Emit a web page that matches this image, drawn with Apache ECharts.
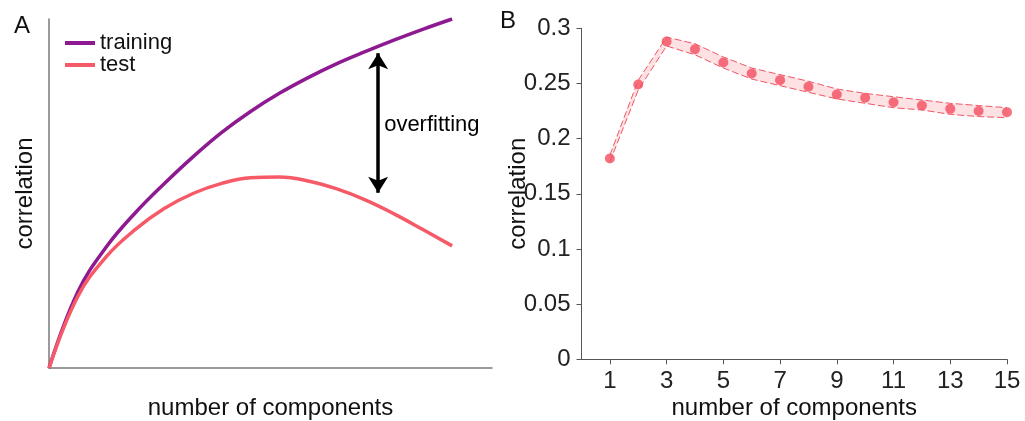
<!DOCTYPE html>
<html>
<head>
<meta charset="utf-8">
<script src="https://cdn.jsdelivr.net/npm/echarts@6/dist/echarts.min.js"></script>
<style>
  html, body { margin: 0; padding: 0; background: #fff; }
  #chart { width: 1025px; height: 421px; }
</style>
</head>
<body>
<div id="chart"></div>
<script>
// panel A: schematic curves (arbitrary units)
const schemX = [0, 0.65, 1.3, 1.95, 2.6, 3.25, 3.9, 4.55, 5.2, 5.85, 6.5, 7.15, 7.8, 8.45, 9.1];
const trainingY = [0, 2.18, 3.48, 4.45, 5.28, 6.05, 6.75, 7.35, 7.87, 8.32, 8.72, 9.07, 9.4, 9.71, 10.0];
const testY = [0, 2.05, 3.2, 3.97, 4.57, 5.0, 5.29, 5.45, 5.47, 5.36, 5.13, 4.81, 4.41, 3.96, 3.5];
const arrowX = 7.43;
const arrowFrom = 5.02;
const arrowTo = 9.02;
const labelY = 6.96;

// panel B: correlation vs number of components
const components = [1, 2, 3, 4, 5, 6, 7, 8, 9, 10, 11, 12, 13, 14, 15];
const corrMean = [0.182, 0.249, 0.288, 0.281, 0.269, 0.259, 0.253, 0.247, 0.240, 0.237, 0.233, 0.230, 0.227, 0.225, 0.224];
const corrLow  = [0.179, 0.244, 0.284, 0.276, 0.264, 0.254, 0.248, 0.242, 0.236, 0.232, 0.228, 0.226, 0.222, 0.220, 0.219];
const corrHigh = [0.185, 0.253, 0.292, 0.286, 0.274, 0.264, 0.258, 0.252, 0.245, 0.241, 0.238, 0.235, 0.232, 0.230, 0.228];
const xTicksB = [1, 3, 5, 7, 9, 11, 13, 15];

const FONT = "'Liberation Sans', Arial, Helvetica, sans-serif";
const purple = '#8e1a91';
const coral = '#f65a66';
const dotRed = '#f24e5e';

const chart = echarts.init(document.getElementById('chart'));

const pair = (xs, ys) => xs.map((x, i) => [x, ys[i]]);

const option = {
  animation: false,
  textStyle: { fontFamily: FONT },
  title: [
    { text: 'A', left: 14, top: 14, padding: 0, textStyle: { fontSize: 24, fontWeight: 'normal', color: '#111', fontFamily: FONT } },
    { text: 'B', left: 500, top: 9, padding: 0, textStyle: { fontSize: 24, fontWeight: 'normal', color: '#111', fontFamily: FONT } }
  ],
  legend: {
    data: ['training', 'test'],
    orient: 'vertical',
    left: 65,
    top: 32,
    padding: 0,
    icon: 'rect',
    itemWidth: 30,
    itemHeight: 4,
    itemGap: 0,
    textStyle: { fontSize: 22, lineHeight: 22, color: '#111', fontFamily: FONT }
  },
  grid: [
    { left: 49, top: 19, width: 443, height: 349, outerBoundsMode: 'none', containLabel: false },
    { left: 581.5, top: 28.3, width: 425.5, height: 331, outerBoundsMode: 'none', containLabel: false }
  ],
  xAxis: [
    {
      gridIndex: 0, type: 'value', min: 0, max: 10,
      name: 'number of components', nameLocation: 'middle', nameGap: 28, nameMoveOverlap: false,
      nameTextStyle: { fontSize: 24, color: '#111' },
      axisLine: { lineStyle: { color: '#7a7a7a', width: 1.5 } },
      axisTick: { show: false }, axisLabel: { show: false }, splitLine: { show: false }
    },
    {
      gridIndex: 1, type: 'value', min: 0, max: 15,
      name: 'number of components', nameLocation: 'middle', nameGap: 37, nameMoveOverlap: false,
      nameTextStyle: { fontSize: 24, color: '#111' },
      axisLine: { lineStyle: { color: '#555', width: 1 } },
      axisTick: { show: true, length: 5, customValues: xTicksB, lineStyle: { color: '#555' } },
      axisLabel: { customValues: xTicksB, margin: 10, fontSize: 24, color: '#222' },
      splitLine: { show: false }
    }
  ],
  yAxis: [
    {
      gridIndex: 0, type: 'value', min: 0, max: 10,
      name: 'correlation', nameLocation: 'middle', nameGap: 12, nameMoveOverlap: false,
      nameTextStyle: { fontSize: 24, color: '#111' },
      axisLine: { show: true, lineStyle: { color: '#7a7a7a', width: 1.5 } },
      axisTick: { show: false }, axisLabel: { show: false }, splitLine: { show: false }
    },
    {
      gridIndex: 1, type: 'value', min: 0, max: 0.3, interval: 0.05,
      name: 'correlation', nameLocation: 'middle', nameGap: 51, nameMoveOverlap: false,
      nameTextStyle: { fontSize: 24, color: '#111' },
      axisLine: { show: true, lineStyle: { color: '#555', width: 1 } },
      axisTick: { show: true, length: 5, lineStyle: { color: '#555' } },
      axisLabel: { margin: 11, fontSize: 24, color: '#222' },
      splitLine: { show: false }
    }
  ],
  series: [
    {
      name: 'training', type: 'line', xAxisIndex: 0, yAxisIndex: 0,
      data: pair(schemX, trainingY), smooth: 0.4,
      showSymbol: false, symbol: 'none', color: purple,
      lineStyle: { color: purple, width: 3.5 }, z: 3
    },
    {
      name: 'test', type: 'line', xAxisIndex: 0, yAxisIndex: 0,
      data: pair(schemX, testY), smooth: 0.4,
      showSymbol: false, symbol: 'none', color: coral,
      lineStyle: { color: coral, width: 3.5 }, z: 4
    },
    {
      name: 'overfitting', type: 'line', xAxisIndex: 0, yAxisIndex: 0,
      data: [[arrowX, labelY]],
      symbol: 'circle', symbolSize: 0, showSymbol: true,
      lineStyle: { opacity: 0 }, itemStyle: { opacity: 0 },
      label: { show: true, position: 'right', distance: 6, formatter: 'overfitting', fontSize: 22, color: '#000', opacity: 1, textBorderWidth: 0 },
      markLine: {
        silent: true,
        symbol: ['arrow', 'arrow'],
        symbolSize: [15, 16],
        label: { show: false },
        lineStyle: { color: '#000', width: 3.5, type: 'solid' },
        data: [[{ coord: [arrowX, arrowFrom] }, { coord: [arrowX, arrowTo] }]]
      }
    },
    {
      name: 'band', type: 'custom', xAxisIndex: 1, yAxisIndex: 1,
      data: components.map((c, i) => [c, corrLow[i], corrHigh[i]]),
      encode: { x: 0, y: [1, 2] },
      silent: true, z: 1,
      renderItem: function (params, api) {
        if (params.dataIndex !== 0) return null;
        const pts = [];
        for (let i = 0; i < components.length; i++) pts.push(api.coord([components[i], corrHigh[i]]));
        for (let i = components.length - 1; i >= 0; i--) pts.push(api.coord([components[i], corrLow[i]]));
        return { type: 'polygon', shape: { points: pts }, style: { fill: '#fde1e3' } };
      }
    },
    {
      name: 'upper', type: 'line', xAxisIndex: 1, yAxisIndex: 1,
      data: pair(components, corrHigh), symbol: 'none', z: 2,
      lineStyle: { color: '#ee5664', width: 1, type: [7, 3] }
    },
    {
      name: 'lower', type: 'line', xAxisIndex: 1, yAxisIndex: 1,
      data: pair(components, corrLow), symbol: 'none', z: 2,
      lineStyle: { color: '#ee5664', width: 1, type: [7, 3] }
    },
    {
      name: 'mean', type: 'scatter', xAxisIndex: 1, yAxisIndex: 1,
      data: pair(components, corrMean), symbolSize: 10, z: 3,
      itemStyle: { color: dotRed }
    }
  ]
};

chart.setOption(option);
</script>
</body>
</html>
